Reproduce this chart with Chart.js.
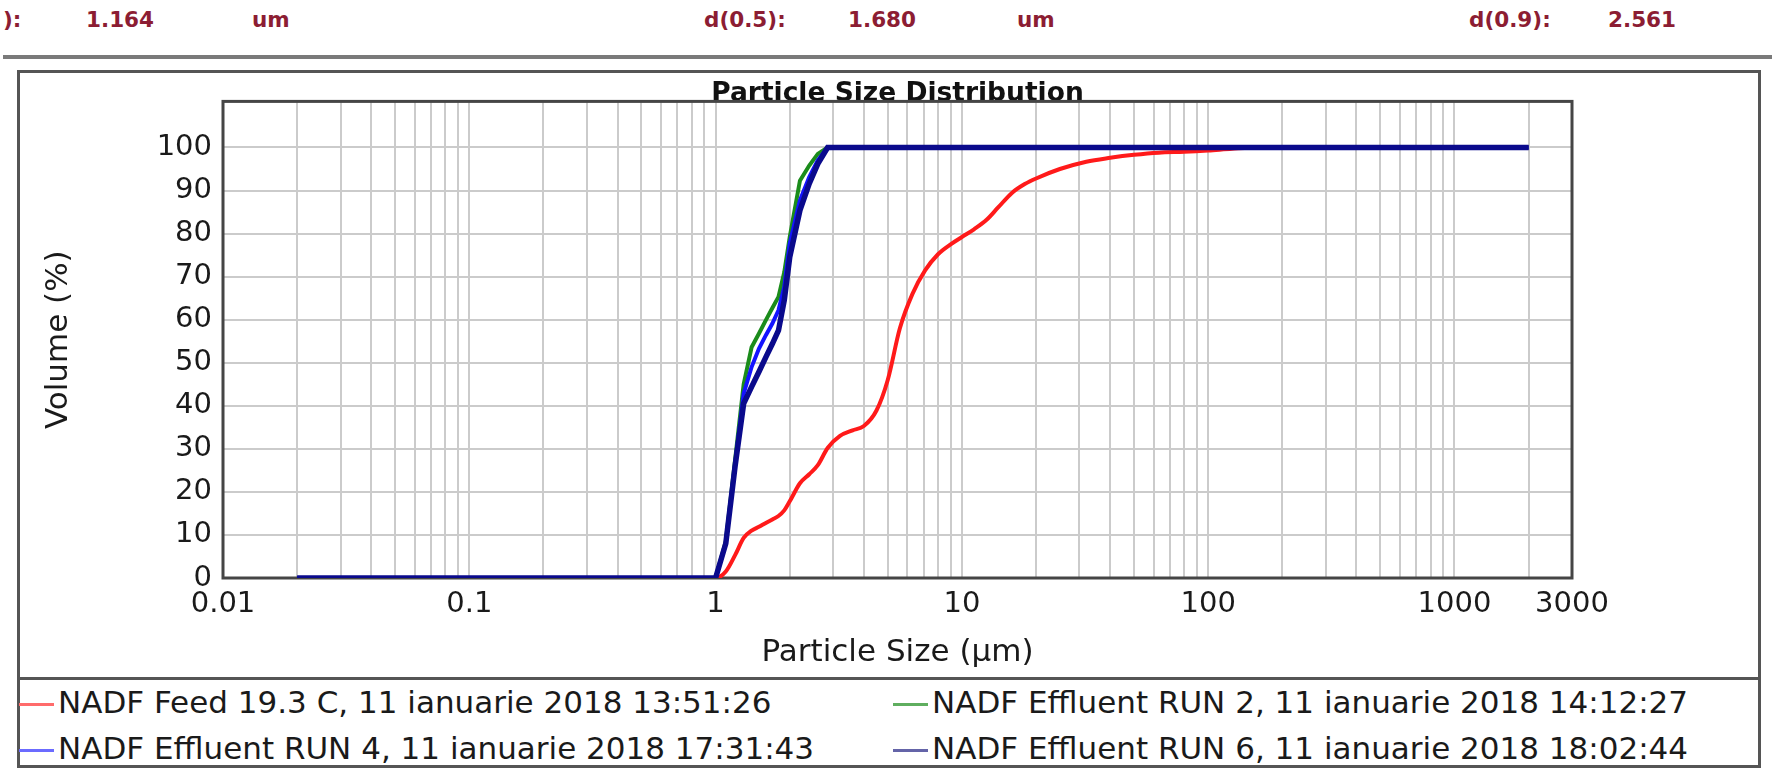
<!DOCTYPE html>
<html lang="en">
<head>
<meta charset="utf-8">
<title>Particle Size Distribution</title>
<script src="https://cdn.jsdelivr.net/npm/chart.js@4.4.1/dist/chart.umd.min.js"></script>
<style>
  html, body { margin: 0; padding: 0; background: #fff; }
  body { position: relative; width: 1772px; height: 771px; overflow: hidden; font-family: "DejaVu Sans", sans-serif; color: #1a1a1a; }
  .stat { position: absolute; top: 8px; font: bold 21.5px "DejaVu Sans", sans-serif; color: #8c1d33; line-height: 24px; white-space: nowrap; }
  .rule { position: absolute; left: 3px; right: 0; top: 55px; height: 4px; background: #7a7a7a; }
  .frame { position: absolute; left: 17px; top: 70px; width: 1738px; height: 692px; border: 3px solid #555; }
  #chart { position: absolute; left: 20px; top: 73px; }
  .divider { position: absolute; left: 20px; top: 677px; width: 1738px; height: 3px; background: #555; }
  .item { position: absolute; height: 40px; line-height: 40px; font-size: 31px; white-space: nowrap; color: #1a1a1a; }
  .item i { display: inline-block; width: 35px; height: 3px; vertical-align: middle; margin-right: 4px; }
</style>
</head>
<body>
<div class="stat" style="left:3px">):</div>
<div class="stat" style="left:86px">1.164</div>
<div class="stat" style="left:252px">um</div>
<div class="stat" style="left:704px">d(0.5):</div>
<div class="stat" style="left:848px">1.680</div>
<div class="stat" style="left:1017px">um</div>
<div class="stat" style="left:1469px">d(0.9):</div>
<div class="stat" style="left:1608px">2.561</div>
<div class="rule"></div>

<div class="frame"></div>
<canvas id="chart" width="1738" height="604"></canvas>
<div class="divider"></div>
<div id="legend"></div>

<script>
// particle sizes (um) where each curve was read
const feedSizes = [0.02, 1.0, 1.1, 1.2, 1.3, 1.4, 1.5, 1.6, 1.7, 1.8, 1.9, 2.0, 2.2, 2.4, 2.6, 2.85,
  3.2, 3.6, 4.0, 4.5, 5.0, 5.6, 6.3, 7.1, 8.0, 9.0, 10, 11.2, 12.6, 14, 16, 18, 20,
  25, 32, 40, 50, 63, 80, 100, 125, 160, 2000];
const effluentSizes = [0.02, 1.0, 1.1, 1.2, 1.3, 1.4, 1.5, 1.6, 1.7, 1.8, 1.9, 2.0, 2.2, 2.4, 2.6, 2.85, 2000];

// cumulative volume (%)
const feed = [0, 0, 1.5, 5.3, 9.3, 11, 11.9, 12.8, 13.6, 14.4, 15.7, 17.8, 22, 24.1, 26.2, 30.2,
  33, 34.3, 35.3, 38.9, 46, 58, 66, 71.5, 75.2, 77.5, 79.2, 81, 83.2, 86, 89.5, 91.5, 92.8,
  95, 96.7, 97.6, 98.3, 98.8, 99.0, 99.3, 99.7, 100, 100];
const run2 = [0, 0, 8.5, 27.5, 45, 53.6, 56.8, 59.9, 62.7, 65.3, 71, 79.2, 92.3, 95.8, 98.5, 100, 100];
const run4 = [0, 0, 8, 26.5, 42.8, 49, 53.3, 56.4, 59.1, 62.2, 67.6, 77.7, 87.7, 93.1, 97, 100, 100];
const run6 = [0, 0, 8, 26, 40.5, 44.4, 47.9, 51.3, 54.4, 57.5, 64.5, 74.5, 85.4, 91.6, 96.2, 100, 100];

const seriesNames = [
  'NADF Feed 19.3 C, 11 ianuarie 2018 13:51:26',
  'NADF Effluent RUN 2, 11 ianuarie 2018 14:12:27',
  'NADF Effluent RUN 4, 11 ianuarie 2018 17:31:43',
  'NADF Effluent RUN 6, 11 ianuarie 2018 18:02:44'
];
const seriesColors = ['#ff1a1a', '#1b8c1b', '#1414ff', '#0a0a8c'];
const legendColors = ['#ff6b6b', '#5fae5f', '#6b6bff', '#6464a8'];
const lineWidths = [4, 4, 4, 5.5];

const xLabels = ['0.01', '0.1', '1', '10', '100', '1000', '3000'];
const decades = [0.01, 0.1, 1, 10, 100, 1000];
const yTicks = [0, 10, 20, 30, 40, 50, 60, 70, 80, 90, 100];

function toPoints(sizes, values) {
  return sizes.map((s, i) => ({ x: s, y: values[i] }));
}

// dark frame round the plot area, under the curves
const plotFrame = {
  id: 'plotFrame',
  beforeDatasetsDraw(chart) {
    const { ctx, chartArea: a } = chart;
    ctx.save();
    ctx.strokeStyle = '#454545';
    ctx.lineWidth = 3;
    ctx.strokeRect(a.left, a.top, a.right - a.left, a.bottom - a.top);
    ctx.restore();
  }
};

Chart.defaults.font.family = "'DejaVu Sans', sans-serif";
Chart.defaults.color = '#1a1a1a';

new Chart(document.getElementById('chart').getContext('2d'), {
  type: 'line',
  data: {
    datasets: [
      { label: seriesNames[0], data: toPoints(feedSizes, feed), borderColor: seriesColors[0], borderWidth: lineWidths[0], cubicInterpolationMode: 'monotone', order: 4 },
      { label: seriesNames[1], data: toPoints(effluentSizes, run2), borderColor: seriesColors[1], borderWidth: lineWidths[1], order: 3 },
      { label: seriesNames[2], data: toPoints(effluentSizes, run4), borderColor: seriesColors[2], borderWidth: lineWidths[2], order: 2 },
      { label: seriesNames[3], data: toPoints(effluentSizes, run6), borderColor: seriesColors[3], borderWidth: lineWidths[3], order: 1 }
    ]
  },
  options: {
    responsive: false,
    animation: false,
    devicePixelRatio: 1,
    elements: { point: { radius: 0 }, line: { tension: 0, fill: false } },
    layout: { padding: { left: 0, right: 186, top: 0, bottom: 0 } },
    plugins: {
      legend: { display: false },
      tooltip: { enabled: false },
      title: {
        display: true,
        fullSize: false,
        text: 'Particle Size Distribution',
        color: '#111',
        font: { size: 26.5, weight: 'bold', lineHeight: 1 },
        padding: { top: 7, bottom: -5.5 }
      }
    },
    scales: {
      x: {
        type: 'logarithmic',
        min: 0.01,
        max: 3000,
        afterBuildTicks: (scale) => {
          const ticks = [];
          decades.forEach(d => {
            for (let m = 1; m <= 9; m++) {
              const v = Number((d * m).toPrecision(2));
              if (v <= 3000) ticks.push({ value: v });
            }
          });
          scale.ticks = ticks;
        },
        afterFit: (scale) => { scale.height = 99; },
        grid: { color: '#cbcbcb', lineWidth: 2, drawTicks: false },
        border: { display: false },
        ticks: {
          autoSkip: false,
          maxRotation: 0,
          minRotation: 0,
          padding: 9,
          font: { size: 29 },
          callback: (value) => xLabels.includes(String(value)) ? String(value) : ''
        },
        title: {
          display: true,
          text: 'Particle Size (µm)',
          font: { size: 31, lineHeight: 1.2 },
          padding: { top: 0, bottom: 5 }
        }
      },
      y: {
        min: 0,
        max: 110.7,
        afterBuildTicks: (scale) => { scale.ticks = yTicks.map(v => ({ value: v })); },
        afterFit: (scale) => { scale.width = 203; },
        grid: { color: '#cbcbcb', lineWidth: 2, drawTicks: false },
        border: { display: false },
        ticks: { padding: 11, font: { size: 29 }, callback: (value) => String(value) },
        title: {
          display: true,
          text: 'Volume (%)',
          font: { size: 31, lineHeight: 1.2 },
          padding: { top: 20, bottom: 0 }
        }
      }
    }
  },
  plugins: [plotFrame]
});

// two-column legend under the chart
const legendBox = document.getElementById('legend');
const legendSpots = [[19, 682], [893, 682], [19, 728], [893, 728]];
seriesNames.forEach((name, i) => {
  const item = document.createElement('div');
  item.className = 'item';
  item.style.left = legendSpots[i][0] + 'px';
  item.style.top = legendSpots[i][1] + 'px';
  item.innerHTML = `<i style="background:${legendColors[i]}"></i>${name}`;
  legendBox.appendChild(item);
});
</script>
</body>
</html>
